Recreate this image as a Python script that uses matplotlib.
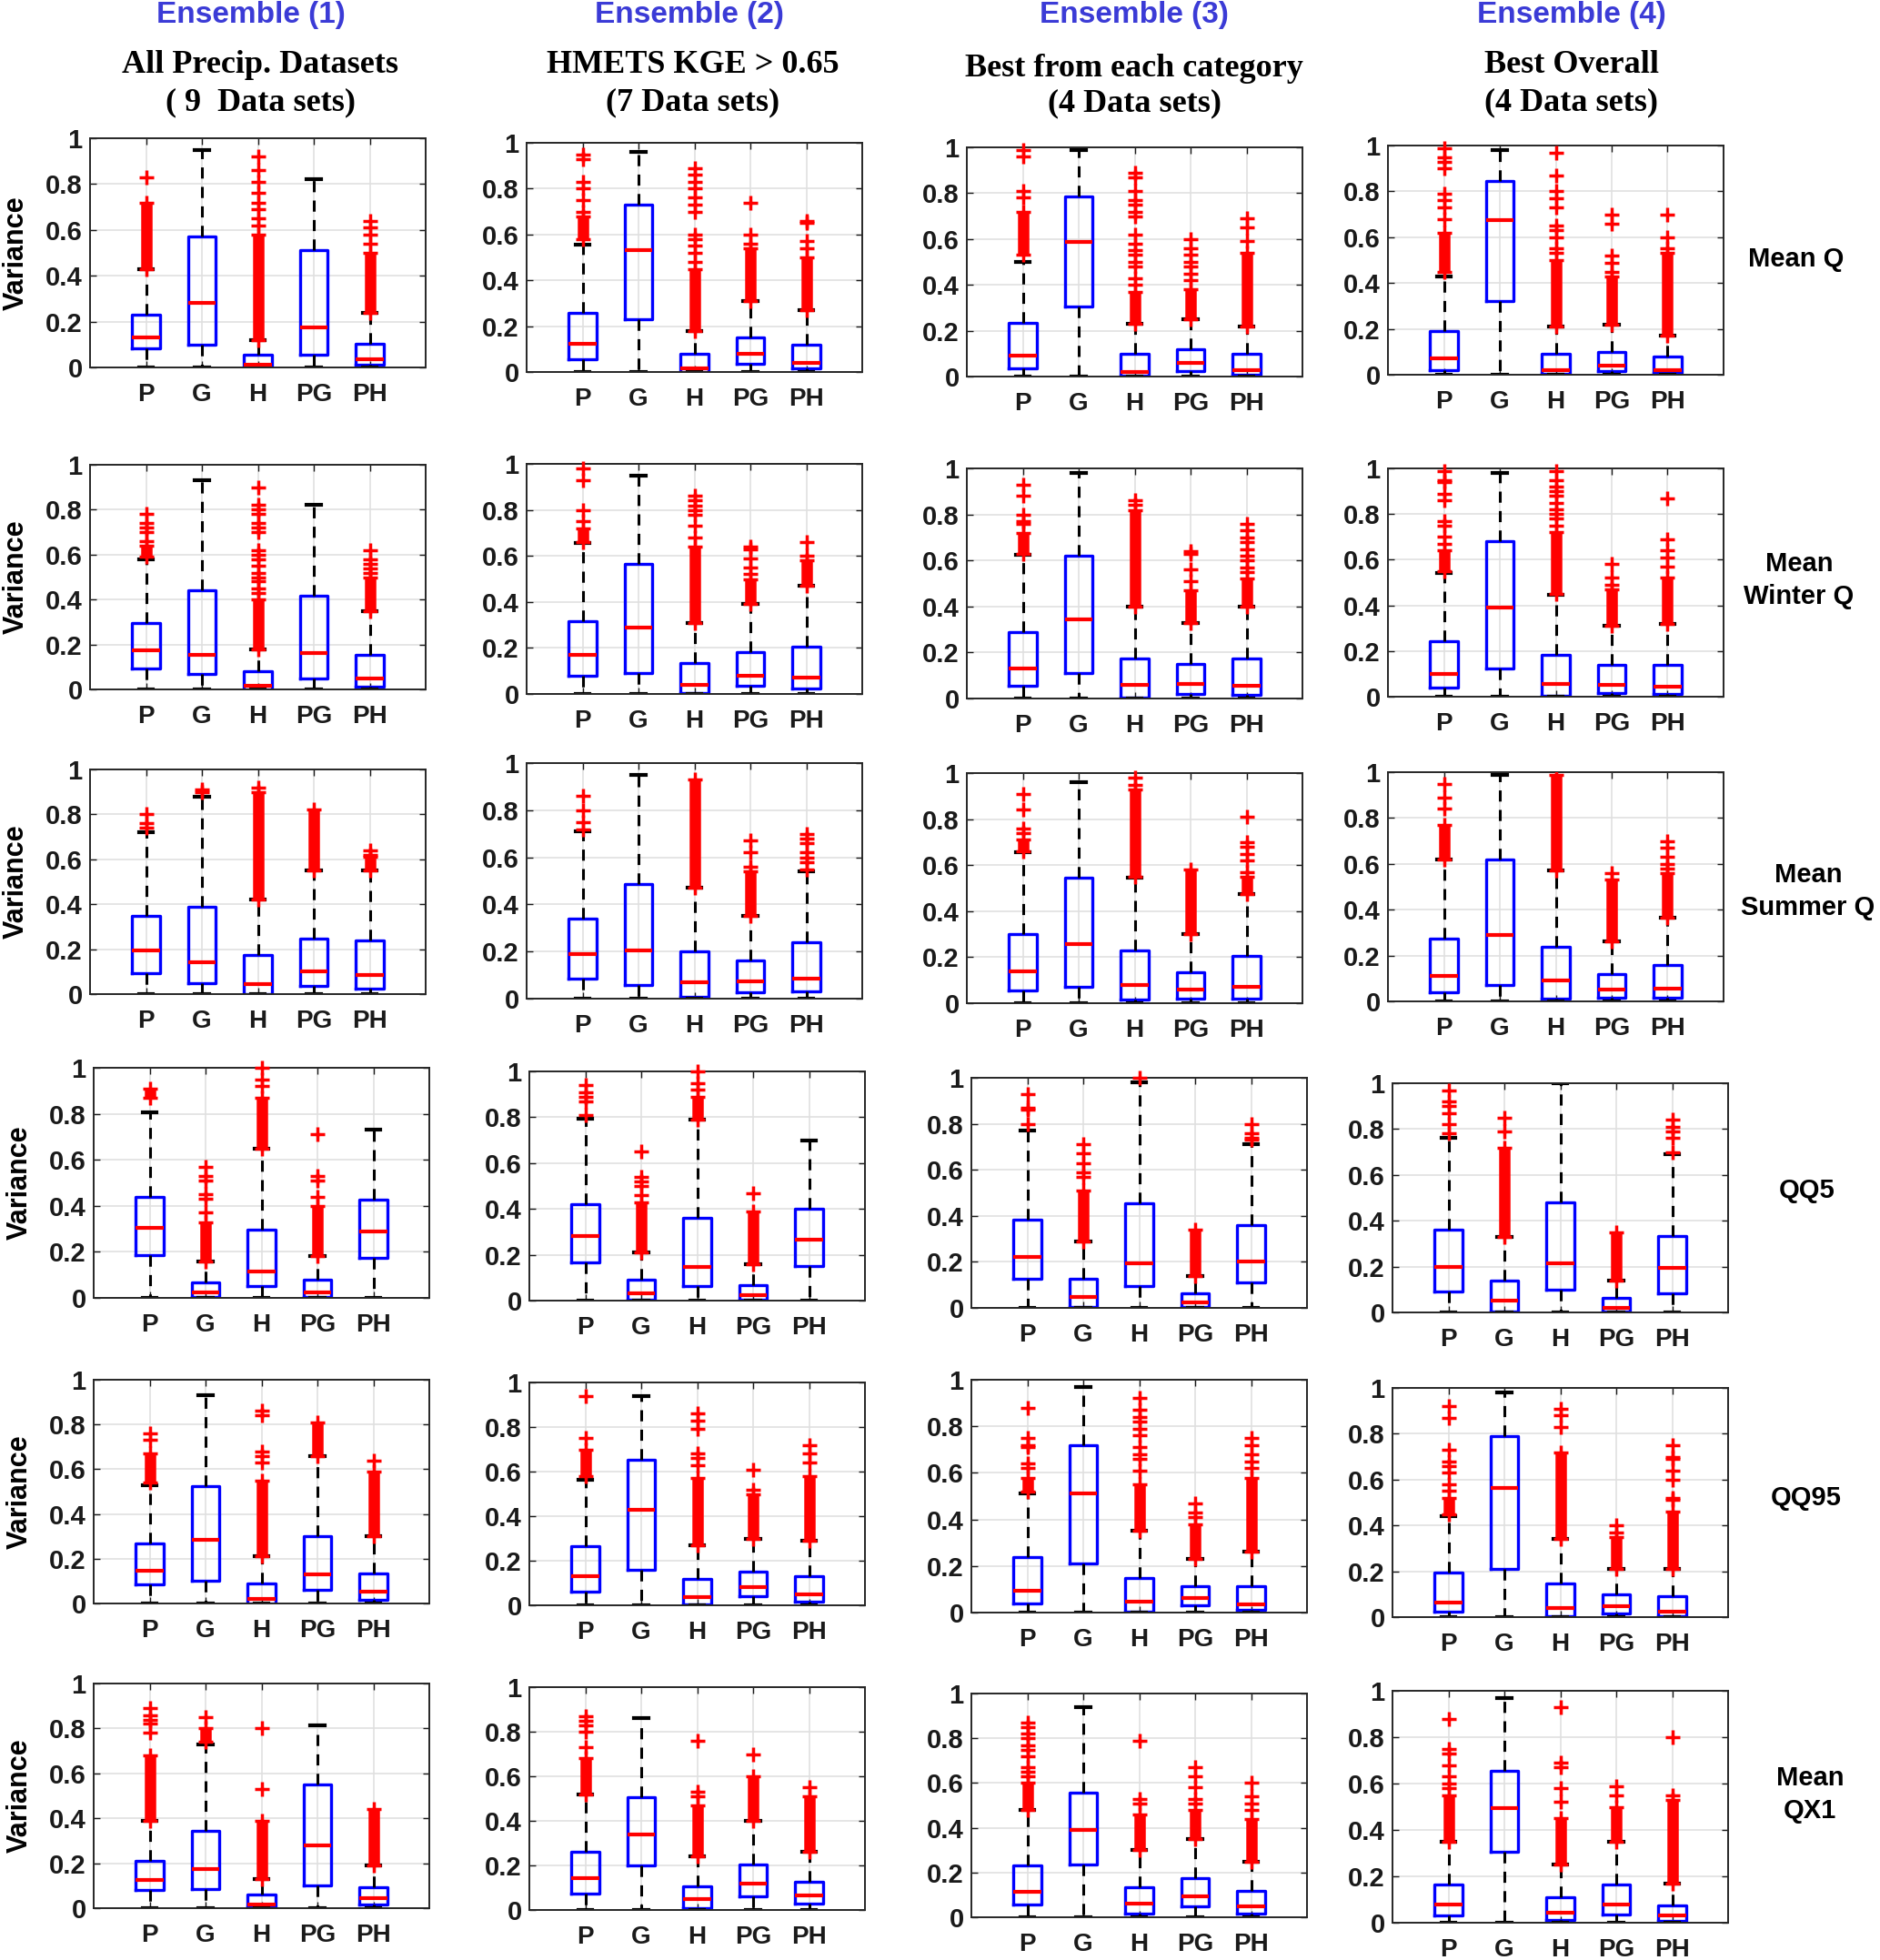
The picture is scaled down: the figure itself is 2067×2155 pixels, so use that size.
import matplotlib
matplotlib.use('Agg')
import matplotlib.pyplot as plt

plt.rcParams['font.family'] = ['Liberation Sans', 'DejaVu Sans']
plt.rcParams['font.weight'] = 'bold'

W, H = 2067, 2155

boxes = ['P', 'G', 'H', 'PG', 'PH']
ensembles = ['Ensemble (1)', 'Ensemble (2)', 'Ensemble (3)', 'Ensemble (4)']
sub1 = ['All Precip. Datasets', 'HMETS KGE > 0.65', 'Best from each category', 'Best Overall']
sub2 = ['( 9  Data sets)', '(7 Data sets)', '(4 Data sets)', '(4 Data sets)']
stat_names = ['Mean Q', 'Mean\nWinter Q', 'Mean\nSummer Q', 'QQ5', 'QQ95', 'Mean\nQX1']

# ---- Mean Q ----  (one row of lists per ensemble, one value per box P,G,H,PG,PH)
mq_q1 = [[0.085, 0.10, 0.0, 0.055, 0.01], [0.055, 0.23, 0.0, 0.035, 0.015],
         [0.035, 0.305, 0.003, 0.025, 0.008], [0.02, 0.32, 0.003, 0.015, 0.008]]
mq_med = [[0.13, 0.28, 0.01, 0.175, 0.035], [0.125, 0.53, 0.017, 0.078, 0.04],
          [0.09, 0.587, 0.02, 0.058, 0.028], [0.07, 0.675, 0.02, 0.04, 0.02]]
mq_q3 = [[0.23, 0.57, 0.055, 0.51, 0.105], [0.257, 0.73, 0.08, 0.15, 0.12],
         [0.233, 0.785, 0.10, 0.12, 0.098], [0.19, 0.845, 0.09, 0.10, 0.078]]
mq_hi = [[0.43, 0.95, 0.12, 0.82, 0.24], [0.555, 0.96, 0.18, 0.31, 0.27],
         [0.50, 0.99, 0.23, 0.25, 0.22], [0.43, 0.98, 0.21, 0.22, 0.17]]
mq_band = [[(0.43, 0.72), None, (0.12, 0.58), None, (0.24, 0.50)],
           [(0.58, 0.68), None, (0.18, 0.45), (0.31, 0.54), (0.27, 0.50)],
           [(0.53, 0.72), None, (0.23, 0.37), (0.25, 0.38), (0.22, 0.54)],
           [(0.45, 0.62), None, (0.21, 0.50), (0.22, 0.43), (0.17, 0.53)]]
mq_out = [[[0.83], [], [0.62, 0.65, 0.69, 0.72, 0.76, 0.81, 0.86, 0.92], [], [0.54, 0.58, 0.61, 0.64]],
          [[0.70, 0.75, 0.80, 0.83, 0.93, 0.95], [],
           [0.48, 0.52, 0.55, 0.58, 0.60, 0.70, 0.73, 0.76, 0.80, 0.83, 0.86, 0.89], [0.56, 0.60, 0.74], [0.54, 0.57, 0.65, 0.66]],
          [[0.78, 0.81, 0.96, 0.99], [],
           [0.40, 0.43, 0.48, 0.50, 0.53, 0.55, 0.58, 0.62, 0.70, 0.72, 0.75, 0.77, 0.81, 0.87, 0.89],
           [0.42, 0.45, 0.48, 0.50, 0.53, 0.56, 0.60], [0.59, 0.65, 0.69]],
          [[0.68, 0.73, 0.76, 0.79, 0.90, 0.93, 0.95, 0.99], [],
           [0.53, 0.55, 0.60, 0.63, 0.65, 0.73, 0.77, 0.80, 0.87, 0.97], [0.45, 0.49, 0.52, 0.66, 0.70], [0.55, 0.60, 0.70]]]

# ---- Mean Winter Q ----
mw_q1 = [[0.095, 0.07, 0.0, 0.047, 0.012], [0.08, 0.09, 0.003, 0.035, 0.022],
         [0.055, 0.11, 0.005, 0.02, 0.015], [0.04, 0.125, 0.005, 0.015, 0.01]]
mw_med = [[0.175, 0.152, 0.015, 0.16, 0.05], [0.17, 0.287, 0.04, 0.08, 0.072],
          [0.13, 0.345, 0.06, 0.063, 0.055], [0.10, 0.39, 0.055, 0.05, 0.045]]
mw_q3 = [[0.295, 0.443, 0.08, 0.415, 0.152], [0.315, 0.565, 0.135, 0.18, 0.205],
         [0.29, 0.62, 0.175, 0.15, 0.175], [0.245, 0.68, 0.185, 0.14, 0.14]]
mw_hi = [[0.58, 0.93, 0.18, 0.82, 0.35], [0.655, 0.95, 0.31, 0.39, 0.47],
         [0.625, 0.98, 0.40, 0.33, 0.40], [0.54, 0.98, 0.445, 0.31, 0.32]]
mw_band = [[(0.59, 0.64), None, (0.18, 0.40), None, (0.35, 0.50)],
           [(0.66, 0.72), None, (0.31, 0.64), (0.39, 0.50), (0.47, 0.58)],
           [(0.63, 0.72), None, (0.40, 0.82), (0.33, 0.47), (0.40, 0.52)],
           [(0.55, 0.64), None, (0.45, 0.72), (0.31, 0.47), (0.32, 0.52)]]
mw_out = [[[0.66, 0.70, 0.72, 0.74, 0.78], [],
           [0.43, 0.45, 0.48, 0.50, 0.52, 0.55, 0.58, 0.60, 0.62, 0.70, 0.72, 0.74, 0.78, 0.80, 0.82, 0.90], [],
           [0.52, 0.54, 0.56, 0.58, 0.62]],
          [[0.75, 0.80, 0.93, 0.98], [], [0.68, 0.73, 0.78, 0.80, 0.82, 0.84, 0.86],
           [0.52, 0.55, 0.59, 0.63, 0.64], [0.60, 0.66]],
          [[0.76, 0.77, 0.80, 0.88, 0.93], [], [0.84, 0.86], [0.51, 0.56, 0.63, 0.64],
           [0.55, 0.57, 0.60, 0.62, 0.65, 0.68, 0.70, 0.73, 0.76]],
          [[0.67, 0.70, 0.75, 0.77, 0.86, 0.89, 0.94, 0.95, 0.99], [],
           [0.75, 0.78, 0.80, 0.82, 0.85, 0.88, 0.90, 0.92, 0.95, 0.99], [0.49, 0.52, 0.58],
           [0.57, 0.61, 0.64, 0.69, 0.87]]]

# ---- Mean Summer Q ----
ms_q1 = [[0.095, 0.05, 0.002, 0.035, 0.025], [0.085, 0.058, 0.008, 0.028, 0.03],
         [0.055, 0.07, 0.015, 0.02, 0.02], [0.04, 0.07, 0.01, 0.015, 0.015]]
ms_med = [[0.195, 0.14, 0.045, 0.10, 0.085], [0.19, 0.203, 0.068, 0.073, 0.085],
          [0.14, 0.255, 0.08, 0.058, 0.073], [0.113, 0.29, 0.09, 0.05, 0.055]]
ms_q3 = [[0.35, 0.39, 0.175, 0.245, 0.24], [0.34, 0.485, 0.20, 0.162, 0.24],
         [0.30, 0.545, 0.23, 0.135, 0.205], [0.275, 0.62, 0.24, 0.118, 0.157]]
ms_hi = [[0.72, 0.88, 0.42, 0.55, 0.55], [0.71, 0.95, 0.47, 0.35, 0.54],
         [0.655, 0.96, 0.545, 0.30, 0.475], [0.62, 0.99, 0.57, 0.26, 0.365]]
ms_band = [[None, None, (0.42, 0.90), (0.55, 0.82), (0.55, 0.61)],
           [None, None, (0.47, 0.93), (0.35, 0.54), None],
           [(0.66, 0.71), None, (0.55, 0.93), (0.30, 0.58), (0.475, 0.55)],
           [(0.62, 0.77), None, (0.57, 0.99), (0.26, 0.53), (0.365, 0.56)]]
ms_out = [[[0.74, 0.76, 0.80], [0.90, 0.91], [0.92], [], [0.62, 0.64]],
          [[0.72, 0.75, 0.80, 0.86], [], [], [0.56, 0.62, 0.67], [0.55, 0.58, 0.60, 0.62, 0.66, 0.68, 0.70]],
          [[0.74, 0.76, 0.84, 0.91], [], [0.95, 0.98], [], [0.57, 0.62, 0.65, 0.68, 0.70, 0.81]],
          [[0.84, 0.89, 0.95], [], [], [0.56], [0.58, 0.60, 0.63, 0.67, 0.70]]]

# ---- QQ5 ----
q5_q1 = [[0.185, 0.003, 0.05, 0.003, 0.175], [0.165, 0.003, 0.065, 0.003, 0.15],
         [0.125, 0.005, 0.095, 0.005, 0.11], [0.09, 0.005, 0.10, 0.003, 0.085]]
q5_med = [[0.305, 0.022, 0.115, 0.025, 0.29], [0.28, 0.03, 0.145, 0.025, 0.265],
          [0.22, 0.048, 0.195, 0.022, 0.20], [0.20, 0.05, 0.215, 0.02, 0.195]]
q5_q3 = [[0.44, 0.068, 0.295, 0.078, 0.425], [0.42, 0.09, 0.36, 0.068, 0.40],
         [0.385, 0.125, 0.455, 0.063, 0.36], [0.36, 0.14, 0.48, 0.062, 0.335]]
q5_hi = [[0.805, 0.16, 0.65, 0.18, 0.73], [0.795, 0.21, 0.79, 0.16, 0.70],
         [0.77, 0.29, 0.98, 0.14, 0.71], [0.76, 0.33, 1.0, 0.14, 0.69]]
q5_band = [[(0.87, 0.91), (0.16, 0.33), (0.65, 0.87), (0.18, 0.40), None],
           [None, (0.21, 0.43), (0.79, 0.89), (0.16, 0.39), None],
           [None, (0.29, 0.51), None, (0.14, 0.34), None],
           [None, (0.33, 0.72), None, (0.14, 0.35), None]]
q5_out = [[[], [0.37, 0.43, 0.45, 0.51, 0.53, 0.57], [0.92, 0.95, 1.0], [0.44, 0.51, 0.53, 0.71], []],
          [[0.81, 0.87, 0.89, 0.91, 0.94], [0.46, 0.50, 0.52, 0.54, 0.65], [0.92, 0.95, 1.0], [0.47], []],
          [[0.80, 0.86, 0.87, 0.93], [0.57, 0.59, 0.63, 0.67, 0.71], [1.0], [], [0.73, 0.74, 0.76, 0.80]],
          [[0.78, 0.82, 0.87, 0.90, 0.92, 0.97], [0.79, 0.85], [], [], [0.70, 0.76, 0.79, 0.81, 0.84]]]

# ---- QQ95 ----
q95_q1 = [[0.085, 0.10, 0.0, 0.06, 0.018], [0.06, 0.16, 0.003, 0.04, 0.015],
          [0.04, 0.21, 0.005, 0.03, 0.01], [0.025, 0.21, 0.003, 0.015, 0.005]]
q95_med = [[0.145, 0.285, 0.02, 0.13, 0.052], [0.13, 0.43, 0.035, 0.083, 0.05],
           [0.095, 0.51, 0.045, 0.063, 0.035], [0.065, 0.565, 0.04, 0.048, 0.025]]
q95_q3 = [[0.27, 0.525, 0.09, 0.30, 0.135], [0.265, 0.655, 0.118, 0.15, 0.13],
          [0.238, 0.72, 0.15, 0.115, 0.115], [0.195, 0.79, 0.145, 0.10, 0.092]]
q95_hi = [[0.53, 0.93, 0.21, 0.66, 0.30], [0.565, 0.94, 0.27, 0.30, 0.29],
          [0.51, 0.97, 0.35, 0.23, 0.26], [0.44, 0.98, 0.34, 0.21, 0.21]]
q95_band = [[(0.54, 0.67), None, (0.21, 0.55), (0.66, 0.81), (0.30, 0.59)],
            [(0.58, 0.70), None, (0.27, 0.57), (0.30, 0.50), (0.29, 0.58)],
            [(0.52, 0.58), None, (0.35, 0.55), (0.23, 0.38), (0.26, 0.58)],
            [(0.45, 0.52), None, (0.34, 0.72), (0.21, 0.35), (0.21, 0.46)]]
q95_out = [[[0.73, 0.76], [], [0.63, 0.66, 0.68, 0.84, 0.86], [], [0.64]],
           [[0.75, 0.94], [], [0.63, 0.66, 0.68, 0.79, 0.83, 0.86], [0.52, 0.61], [0.64, 0.68, 0.72]],
           [[0.62, 0.64, 0.71, 0.72, 0.75, 0.88], [],
            [0.61, 0.66, 0.68, 0.71, 0.76, 0.79, 0.82, 0.84, 0.87, 0.92], [0.41, 0.43, 0.47],
            [0.62, 0.65, 0.68, 0.72, 0.75]],
           [[0.55, 0.58, 0.63, 0.66, 0.68, 0.73, 0.87, 0.92], [], [0.83, 0.88, 0.91], [0.37, 0.40],
            [0.51, 0.52, 0.60, 0.64, 0.69, 0.70, 0.75]]]

# ---- Mean QX1 ----
qx_q1 = [[0.08, 0.085, 0.003, 0.10, 0.018], [0.075, 0.20, 0.008, 0.063, 0.028],
         [0.055, 0.235, 0.018, 0.048, 0.018], [0.03, 0.305, 0.01, 0.035, 0.008]]
qx_med = [[0.127, 0.175, 0.015, 0.28, 0.045], [0.143, 0.34, 0.048, 0.12, 0.065],
          [0.115, 0.39, 0.06, 0.095, 0.05], [0.08, 0.495, 0.045, 0.08, 0.03]]
qx_q3 = [[0.21, 0.345, 0.06, 0.55, 0.095], [0.26, 0.505, 0.107, 0.205, 0.125],
         [0.23, 0.555, 0.135, 0.175, 0.118], [0.165, 0.655, 0.11, 0.165, 0.075]]
qx_hi = [[0.39, 0.73, 0.13, 0.815, 0.19], [0.52, 0.86, 0.24, 0.40, 0.26],
         [0.48, 0.94, 0.30, 0.35, 0.25], [0.35, 0.97, 0.25, 0.35, 0.17]]
qx_band = [[(0.39, 0.68), (0.74, 0.80), (0.13, 0.39), None, (0.19, 0.44)],
           [(0.52, 0.68), None, (0.24, 0.47), (0.40, 0.60), (0.26, 0.51)],
           [(0.48, 0.60), None, (0.30, 0.46), (0.35, 0.48), (0.25, 0.44)],
           [(0.35, 0.55), None, (0.25, 0.45), (0.35, 0.50), (0.17, 0.53)]]
qx_out = [[[0.78, 0.82, 0.84, 0.86, 0.89], [0.85], [0.53, 0.80], [], []],
          [[0.73, 0.80, 0.83, 0.85, 0.87], [], [0.51, 0.53, 0.76], [0.70], [0.55]],
          [[0.63, 0.65, 0.67, 0.72, 0.75, 0.77, 0.80, 0.82, 0.85, 0.87], [], [0.51, 0.53, 0.79],
           [0.51, 0.53, 0.58, 0.63, 0.67], [0.48, 0.51, 0.54, 0.60]],
          [[0.58, 0.60, 0.63, 0.68, 0.73, 0.75, 0.88], [], [0.52, 0.58, 0.67, 0.69, 0.93], [0.55, 0.59], [0.55, 0.80]]]

rows = [(mq_q1, mq_med, mq_q3, mq_hi, mq_band, mq_out),
        (mw_q1, mw_med, mw_q3, mw_hi, mw_band, mw_out),
        (ms_q1, ms_med, ms_q3, ms_hi, ms_band, ms_out),
        (q5_q1, q5_med, q5_q3, q5_hi, q5_band, q5_out),
        (q95_q1, q95_med, q95_q3, q95_hi, q95_band, q95_out),
        (qx_q1, qx_med, qx_q3, qx_hi, qx_band, qx_out)]

# panel placement in pixels (the source figure is a collage, so panels are not perfectly aligned)
tops = [[152, 157, 162, 160], [511, 510, 515, 515], [846, 839, 850, 849],
        [1174, 1178, 1185, 1191], [1517, 1520, 1517, 1526], [1851, 1855, 1862, 1859]]
bots = [[404, 409, 414, 412], [758, 763, 768, 766], [1093, 1098, 1103, 1101],
        [1427, 1430, 1438, 1443], [1763, 1765, 1773, 1778], [2098, 2100, 2108, 2114]]
lefts = [[99, 579, 1063, 1526]] * 3 + [[103, 582, 1068, 1531]] * 3
panel_w = 369

fig = plt.figure(figsize=(W / 100, H / 100), dpi=100)

for r, (q1, med, q3, hi, band, out) in enumerate(rows):
    for c in range(4):
        x0, t, b = lefts[r][c], tops[r][c], bots[r][c]
        ax = fig.add_axes([x0 / W, 1 - b / H, panel_w / W, (b - t) / H])
        stats = [dict(med=med[c][i], q1=q1[c][i], q3=q3[c][i], whislo=0.0,
                      whishi=hi[c][i], fliers=out[c][i]) for i in range(5)]
        art = ax.bxp(stats, positions=range(1, 6), widths=0.5, capwidths=0.25,
                     boxprops=dict(color='#0000ff', linewidth=2.4),
                     medianprops=dict(color='#ff0000', linewidth=3),
                     whiskerprops=dict(color='black', linewidth=2.2, linestyle=(0, (4, 3))),
                     capprops=dict(color='black', linewidth=3),
                     flierprops=dict(marker='+', markeredgecolor='#ff0000', markersize=12,
                                     markeredgewidth=2.5, linestyle='none'))
        for ln in art['fliers']:
            ln.set_clip_on(False)
            ln.set_zorder(4)
        for i, bd in enumerate(band[c]):
            if bd is None:
                continue
            ax.vlines(i + 1, bd[0], bd[1], color='#ff0000', linewidth=9, zorder=4)
            ax.plot([i + 1, i + 1], bd, linestyle='none', marker='+', markersize=12,
                    markeredgewidth=2.5, color='#ff0000', zorder=4)
        ax.set_xlim(0, 6)
        ax.set_ylim(0, 1)
        ax.set_yticks([0, 0.2, 0.4, 0.6, 0.8, 1])
        ax.set_yticklabels(['0', '0.2', '0.4', '0.6', '0.8', '1'])
        ax.set_xticks(range(1, 6))
        ax.set_xticklabels(boxes)
        ax.grid(True, color='#e0e0e0', linewidth=1.2)
        ax.set_axisbelow(True)
        ax.tick_params(axis='both', direction='in', length=5, width=1, top=True, right=True,
                       colors='#1a1a1a')
        ax.tick_params(axis='y', labelsize=21, pad=6)
        ax.tick_params(axis='x', labelsize=20, pad=12)
        for s in ax.spines.values():
            s.set_linewidth(1.4)
            s.set_color('#262626')
        if c == 0:
            ax.set_ylabel('Variance', fontsize=22, fontweight='bold')
            ax.yaxis.set_label_coords(-0.18, 0.5)

# column headings
title_x = [276, 758, 1247, 1728]
sub_x = [286, 762, 1247, 1728]
sub_y1 = [72, 72, 76, 72]
sub_y2 = [113, 113, 114, 113]
for c in range(4):
    fig.text(title_x[c] / W, 1 - 16 / H, ensembles[c], ha='center', va='center',
             fontsize=24, fontweight='bold', color='#3b3bd6')
    fig.text(sub_x[c] / W, 1 - sub_y1[c] / H, sub1[c], ha='center', va='center',
             fontsize=26, fontweight='bold', family='Liberation Serif')
    fig.text(sub_x[c] / W, 1 - sub_y2[c] / H, sub2[c], ha='center', va='center',
             fontsize=26, fontweight='bold', family='Liberation Serif')

# row labels on the right
label_x = [1975, 1978, 1988, 1987, 1986, 1990]
label_y = [285, 638, 980, 1309, 1647, 1973]
for r in range(6):
    fig.text(label_x[r] / W, 1 - label_y[r] / H, stat_names[r], ha='center', va='center',
             fontsize=21, fontweight='bold', linespacing=1.35)

fig.savefig('out.png', dpi=100)
